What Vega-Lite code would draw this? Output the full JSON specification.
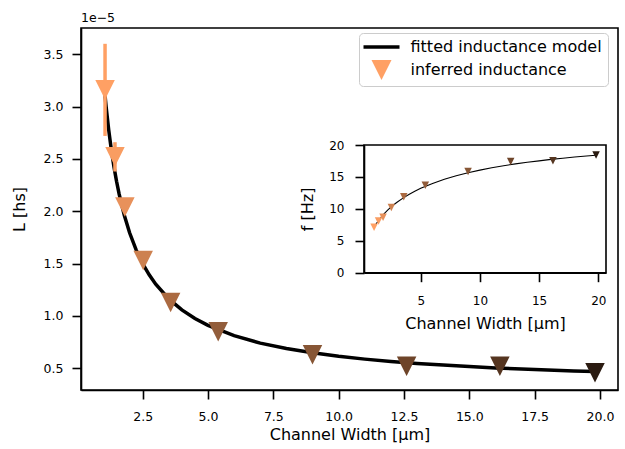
{
  "$schema": "https://vega.github.io/schema/vega-lite/v6.json",
  "width": 537,
  "height": 362,
  "autosize": {"type": "none"},
  "padding": {"left": 81, "top": 28, "right": 7, "bottom": 59},
  "background": "white",
  "title": {"text": "1e\u22125", "anchor": "start", "frame": "group", "fontSize": 12.5, "fontWeight": "normal", "font": "DejaVu Sans", "color": "black", "baseline": "alphabetic", "offset": 7, "dy": 13},
  "config": {
    "font": "DejaVu Sans",
    "view": {"stroke": "black", "strokeWidth": 1.6},
    "axis": {
      "grid": false,
      "domainColor": "black",
      "domainWidth": 1.6,
      "tickColor": "black",
      "tickWidth": 1.6,
      "tickSize": 9,
      "labelFontSize": 12.5,
      "labelColor": "black",
      "titleFontSize": 16,
      "titleFontWeight": "normal",
      "titleColor": "black"
    },
    "legend": {
      "labelFontSize": 16,
      "labelColor": "black",
      "labelLimit": 400,
      "padding": 6,
      "rowPadding": 5,
      "labelOffset": 21,
      "symbolOffset": 8.5,
      "strokeColor": "#cccccc",
      "cornerRadius": 4,
      "fillColor": "rgba(255,255,255,0.8)"
    }
  },
  "datasets": {
    "points": [
      {"w": 1.06, "L": 3.16, "lo": 2.72, "hi": 3.60, "f": 7.1, "hex": "#FFA064", "series": "inferred inductance"},
      {"w": 1.44, "L": 2.52, "lo": 2.38, "hi": 2.66, "f": 8.1, "hex": "#F99D62", "series": "inferred inductance"},
      {"w": 1.82, "L": 2.04, "lo": 1.99, "hi": 2.09, "f": 8.7, "hex": "#E8915B", "series": "inferred inductance"},
      {"w": 2.52, "L": 1.53, "lo": 1.50, "hi": 1.56, "f": 10.2, "hex": "#CD8150", "series": "inferred inductance"},
      {"w": 3.57, "L": 1.13, "lo": 1.11, "hi": 1.15, "f": 11.9, "hex": "#AB6A41", "series": "inferred inductance"},
      {"w": 5.39, "L": 0.85, "lo": 0.83, "hi": 0.87, "f": 13.7, "hex": "#925D3B", "series": "inferred inductance"},
      {"w": 9.0, "L": 0.63, "lo": 0.62, "hi": 0.64, "f": 15.85, "hex": "#875635", "series": "inferred inductance"},
      {"w": 12.6, "L": 0.52, "lo": 0.51, "hi": 0.53, "f": 17.4, "hex": "#6E4429", "series": "inferred inductance"},
      {"w": 16.17, "L": 0.52, "lo": 0.51, "hi": 0.53, "f": 17.55, "hex": "#553520", "series": "inferred inductance"},
      {"w": 19.81, "L": 0.457, "lo": 0.45, "hi": 0.465, "f": 18.45, "hex": "#2B1B11", "series": "inferred inductance"}
    ],
    "curve": [
      {"w": 1.05, "L": 3.130, "f": 7.12, "series": "fitted inductance model"},
      {"w": 1.1, "L": 3.002, "f": 7.27, "series": "fitted inductance model"},
      {"w": 1.2, "L": 2.778, "f": 7.56, "series": "fitted inductance model"},
      {"w": 1.3, "L": 2.589, "f": 7.83, "series": "fitted inductance model"},
      {"w": 1.4, "L": 2.427, "f": 8.09, "series": "fitted inductance model"},
      {"w": 1.5, "L": 2.287, "f": 8.33, "series": "fitted inductance model"},
      {"w": 1.6, "L": 2.164, "f": 8.57, "series": "fitted inductance model"},
      {"w": 1.8, "L": 1.959, "f": 9.00, "series": "fitted inductance model"},
      {"w": 2.0, "L": 1.795, "f": 9.40, "series": "fitted inductance model"},
      {"w": 2.25, "L": 1.631, "f": 9.87, "series": "fitted inductance model"},
      {"w": 2.5, "L": 1.500, "f": 10.29, "series": "fitted inductance model"},
      {"w": 2.75, "L": 1.393, "f": 10.68, "series": "fitted inductance model"},
      {"w": 3.0, "L": 1.303, "f": 11.04, "series": "fitted inductance model"},
      {"w": 3.5, "L": 1.163, "f": 11.68, "series": "fitted inductance model"},
      {"w": 4.0, "L": 1.058, "f": 12.25, "series": "fitted inductance model"},
      {"w": 4.5, "L": 0.976, "f": 12.75, "series": "fitted inductance model"},
      {"w": 5.0, "L": 0.910, "f": 13.21, "series": "fitted inductance model"},
      {"w": 6.0, "L": 0.812, "f": 13.98, "series": "fitted inductance model"},
      {"w": 7.0, "L": 0.741, "f": 14.64, "series": "fitted inductance model"},
      {"w": 8.0, "L": 0.689, "f": 15.18, "series": "fitted inductance model"},
      {"w": 9.0, "L": 0.648, "f": 15.65, "series": "fitted inductance model"},
      {"w": 10.0, "L": 0.615, "f": 16.07, "series": "fitted inductance model"},
      {"w": 11.0, "L": 0.588, "f": 16.43, "series": "fitted inductance model"},
      {"w": 12.0, "L": 0.566, "f": 16.75, "series": "fitted inductance model"},
      {"w": 13.0, "L": 0.547, "f": 17.04, "series": "fitted inductance model"},
      {"w": 14.0, "L": 0.531, "f": 17.29, "series": "fitted inductance model"},
      {"w": 15.0, "L": 0.517, "f": 17.52, "series": "fitted inductance model"},
      {"w": 16.0, "L": 0.504, "f": 17.75, "series": "fitted inductance model"},
      {"w": 17.0, "L": 0.494, "f": 17.92, "series": "fitted inductance model"},
      {"w": 18.0, "L": 0.484, "f": 18.11, "series": "fitted inductance model"},
      {"w": 19.0, "L": 0.475, "f": 18.28, "series": "fitted inductance model"},
      {"w": 19.8, "L": 0.469, "f": 18.40, "series": "fitted inductance model"}
    ]
  },
  "layer": [
    {
      "layer": [
        {
          "data": {"name": "curve"},
          "mark": {"type": "line", "strokeWidth": 3.5, "clip": true},
          "encoding": {
            "x": {"field": "w", "type": "quantitative", "scale": {"domain": [0.14, 20.69], "nice": false, "zero": false},
                  "axis": {"orient": "bottom", "values": [2.5, 5, 7.5, 10, 12.5, 15, 17.5, 20], "format": ".1f", "title": "Channel Width [\u00b5m]", "labelPadding": 11, "titlePadding": 4}},
            "y": {"field": "L", "type": "quantitative", "scale": {"domain": [0.293, 3.751], "nice": false, "zero": false},
                  "axis": {"orient": "left", "values": [0.5, 1, 1.5, 2, 2.5, 3, 3.5], "format": ".1f", "title": "L [hs]", "labelPadding": 9, "titlePadding": 16}},
            "stroke": {"field": "series", "type": "nominal",
                       "scale": {"domain": ["fitted inductance model", "inferred inductance"], "range": ["black", "#FFA064"]},
                       "legend": {"title": null, "orient": "none", "legendX": 278, "legendY": 5,
                                  "symbolType": {"expr": "datum.value === 'inferred inductance' ? 'M-1,-1L1,-1L0,1Z' : 'stroke'"},
                                  "symbolSize": {"expr": "datum.value === 'inferred inductance' ? 400 : 1296"},
                                  "symbolFillColor": {"expr": "datum.value === 'inferred inductance' ? '#FFA064' : 'transparent'"},
                                  "symbolStrokeWidth": {"expr": "datum.value === 'inferred inductance' ? 0 : 3.5"},
                                  "symbolOpacity": 1}}
          }
        },
        {
          "data": {"name": "points"},
          "mark": {"type": "rule", "strokeWidth": 3.5},
          "encoding": {
            "x": {"field": "w", "type": "quantitative"},
            "y": {"field": "lo", "type": "quantitative"},
            "y2": {"field": "hi"},
            "color": {"field": "hex", "type": "nominal", "scale": null}
          }
        },
        {
          "data": {"name": "points"},
          "mark": {"type": "point", "shape": "M-1,-1L1,-1L0,1Z", "size": 380, "filled": true, "strokeWidth": 0, "opacity": 1},
          "encoding": {
            "x": {"field": "w", "type": "quantitative"},
            "y": {"field": "L", "type": "quantitative"},
            "fill": {"field": "hex", "type": "nominal", "scale": null},
            "stroke": {"field": "series", "type": "nominal",
                       "legend": {"title": null, "orient": "none", "legendX": 278, "legendY": 5,
                                  "symbolType": {"expr": "datum.value === 'inferred inductance' ? 'M-1,-1L1,-1L0,1Z' : 'stroke'"},
                                  "symbolSize": {"expr": "datum.value === 'inferred inductance' ? 400 : 1296"},
                                  "symbolFillColor": {"expr": "datum.value === 'inferred inductance' ? '#FFA064' : 'transparent'"},
                                  "symbolStrokeWidth": {"expr": "datum.value === 'inferred inductance' ? 0 : 3.5"},
                                  "symbolOpacity": 1}}
          }
        }
      ]
    },
    {
      "layer": [
        {
          "data": {"values": [{"x0": 0.21, "x1": 20.65, "y0": 0, "y1": 20}]},
          "mark": {"type": "rect", "fill": "transparent", "stroke": "black", "strokeWidth": 1.6},
          "encoding": {
            "x": {"field": "x0", "type": "quantitative",
                  "scale": {"domain": [0.21, 20.65], "range": [283, 525], "nice": false, "zero": false},
                  "axis": {"orient": "bottom", "offset": -117.3, "values": [5, 10, 15, 20], "title": "Channel Width [\u00b5m]", "labelFontSize": 12, "labelPadding": 14, "titlePadding": 9}},
            "x2": {"field": "x1"},
            "y": {"field": "y0", "type": "quantitative",
                  "scale": {"domain": [0, 20], "range": [244.7, 117], "nice": false, "zero": false},
                  "axis": {"orient": "left", "offset": -283, "values": [0, 5, 10, 15, 20], "title": "f [Hz]", "labelFontSize": 12, "labelPadding": 11, "titlePadding": 13}},
            "y2": {"field": "y1"}
          }
        },
        {
          "data": {"name": "curve"},
          "mark": {"type": "line", "strokeWidth": 1.1, "color": "black"},
          "encoding": {
            "x": {"field": "w", "type": "quantitative"},
            "y": {"field": "f", "type": "quantitative"}
          }
        },
        {
          "data": {"name": "points"},
          "mark": {"type": "point", "shape": "M-1,-1L1,-1L0,1Z", "size": 56, "filled": true, "strokeWidth": 0, "opacity": 1},
          "encoding": {
            "x": {"field": "w", "type": "quantitative"},
            "y": {"field": "f", "type": "quantitative"},
            "fill": {"field": "hex", "type": "nominal", "scale": null}
          }
        }
      ]
    }
  ],
  "resolve": {"scale": {"x": "independent", "y": "independent"}, "axis": {"x": "independent", "y": "independent"}}
}
